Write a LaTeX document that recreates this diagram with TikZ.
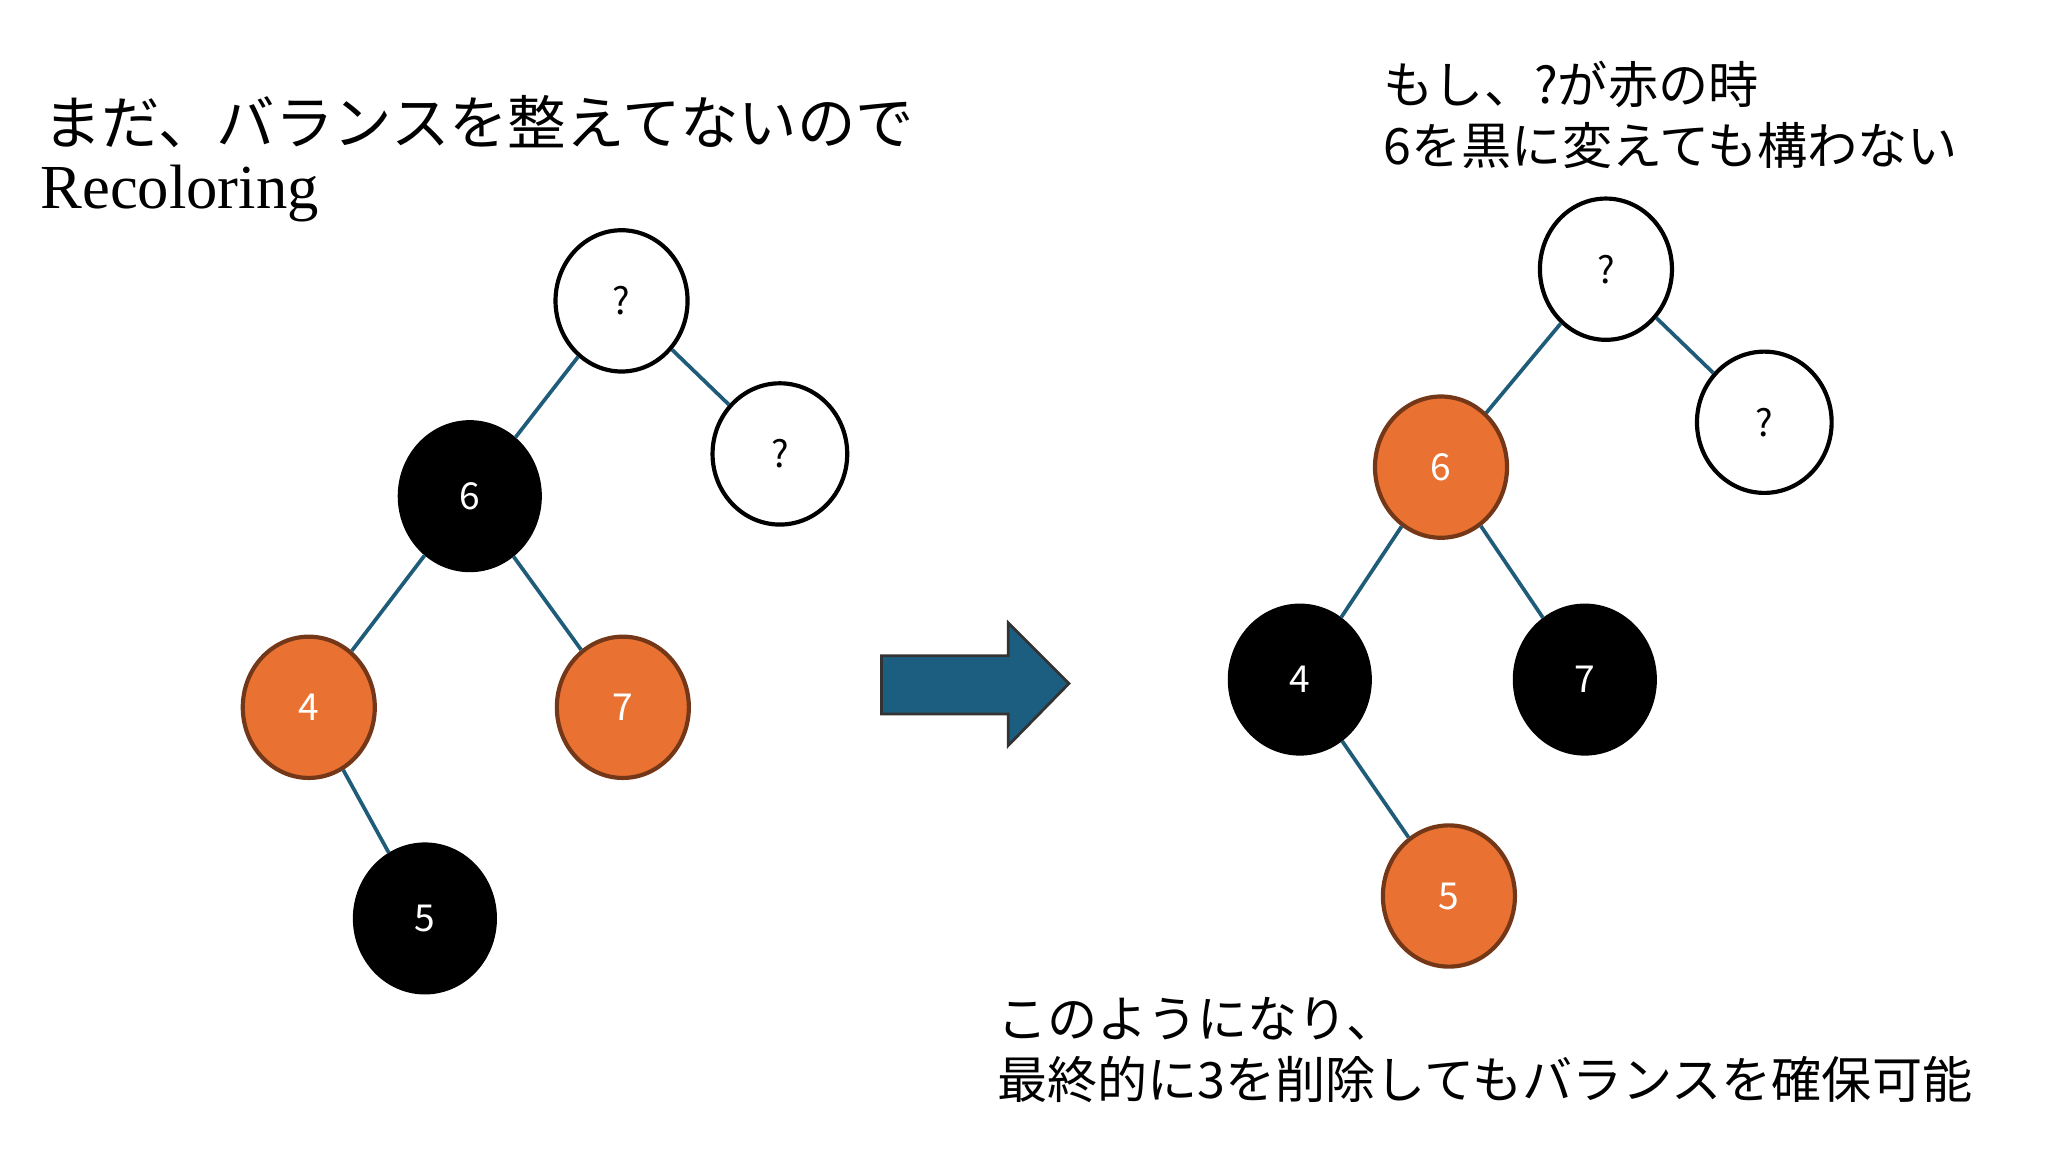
\documentclass[tikz,border=0pt]{standalone}
\usepackage{fontspec}
\setmainfont{Noto Sans CJK JP}
\newfontfamily\latinserif{Liberation Serif}
\usetikzlibrary{shapes.geometric}
\definecolor{edgec}{HTML}{1F5C7A}
\definecolor{orangec}{HTML}{E97132}
\definecolor{arrowc}{HTML}{1B5E80}
\begin{document}
\begin{tikzpicture}[x=0.01cm,y=-0.01cm,
  nd/.style={ellipse,draw=black,line width=0.9pt,minimum width=1.0cm,minimum height=1.07cm,font=\fontsize{8}{9}\selectfont},
  wn/.style={nd,fill=white,text=black},
  bn/.style={nd,fill=black,text=white,minimum width=1.06cm,minimum height=1.12cm},
  on/.style={nd,fill=orangec,draw=orangec!50!black,text=white},
  ed/.style={draw=edgec,line width=0.8pt},
  tx/.style={anchor=west,align=left,inner sep=0pt}]
\useasboundingbox (0,0) rectangle (1552,873);
% left tree
\node[wn] (lq) at (471,228) {?};
\node[wn,minimum width=1.02cm] (lq2) at (591,344) {?};
\node[bn] (l6) at (356,376) {6};
\node[on] (l4) at (234,536) {4};
\node[on] (l7) at (472,536) {7};
\node[bn] (l5) at (322,696) {5};
\draw[ed] (lq)--(l6); \draw[ed] (lq)--(lq2); \draw[ed] (l6)--(l4); \draw[ed] (l6)--(l7); \draw[ed] (l4)--(l5);
% arrow
\draw[fill=arrowc,draw=black!80,line width=0.6pt] (668,497)--(764,497)--(764,472)--(810,518)--(764,565)--(764,541)--(668,541)--cycle;
% right tree
\node[wn] (rq) at (1217,204) {?};
\node[wn,minimum width=1.02cm] (rq2) at (1337,320) {?};
\node[on] (r6) at (1092,354) {6};
\node[bn] (r4) at (985,515) {4};
\node[bn] (r7) at (1201,515) {7};
\node[on] (r5) at (1098,679) {5};
\draw[ed] (rq)--(r6); \draw[ed] (rq)--(rq2); \draw[ed] (r6)--(r4); \draw[ed] (r6)--(r7); \draw[ed] (r4)--(r5);
% texts
\node[tx,font=\fontsize{12.6}{14}\selectfont] (t1) at (32,92) {まだ、バランスを整えてないので};
\node[tx,font=\fontsize{13.5}{15}\latinserif] (t2) at (30,147) {Recoloring};
\node[tx,font=\fontsize{10.8}{12}\selectfont] (t3) at (1048,64) {もし、?が赤の時};
\node[tx,font=\fontsize{10.8}{12}\selectfont] (t4) at (1048,110) {6を黒に変えても構わない};
\node[tx,font=\fontsize{10.8}{12}\selectfont] (t5) at (755,772) {このようになり、};
\node[tx,font=\fontsize{10.8}{12}\selectfont] (t6) at (755,818) {最終的に3を削除してもバランスを確保可能};
\end{tikzpicture}
\end{document}
